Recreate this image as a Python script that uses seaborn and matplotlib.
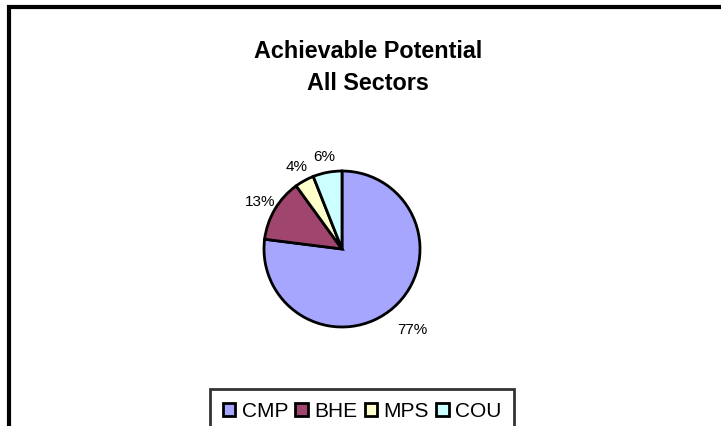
import matplotlib
matplotlib.use("Agg")
import matplotlib.pyplot as plt
import seaborn as sns
import numpy as np
from matplotlib.patches import Rectangle

# Share of achievable potential by sector (percent)
sectors = ["CMP", "BHE", "MPS", "COU"]
shares = [77, 13, 4, 6]
slice_colors = ["#A6A6FF", "#A0466E", "#FFFFCC", "#CCFFFF"]
title_lines = ["Achievable Potential", "All Sectors"]

sns.set_theme(style="white")
plt.rcParams["font.family"] = ["Liberation Sans", "DejaVu Sans"]
plt.rcParams["text.color"] = "black"

W, H, DPI = 721, 427, 100
fig = plt.figure(figsize=(W / DPI, H / DPI), dpi=DPI)
fig.patch.set_facecolor("white")

# Chart frame (extends past the right and bottom edges)
fig.patches.append(Rectangle((9 / W, -0.2), 1.2, 1 - 8 / H + 0.2,
                             transform=fig.transFigure, fill=False,
                             edgecolor="black", linewidth=3.0))

# Title, two centred lines
fig.text(368 / W, 1 - 58 / H, title_lines[0], ha="center", va="baseline",
         fontsize=16.8, fontweight="bold", color="black")
fig.text(368 / W, 1 - 90 / H, title_lines[1], ha="center", va="baseline",
         fontsize=16.8, fontweight="bold", color="black")

# Pie axes: centre at (342, 250) px, radius 78 px
cx, cy, r = 342, 250, 78
ax = fig.add_axes([(cx - r) / W, 1 - (cy + r) / H, 2 * r / W, 2 * r / H])
palette = sns.color_palette(slice_colors)
wedges, texts, autotexts = ax.pie(
    shares, colors=palette, startangle=90, counterclock=False,
    autopct="%1.0f%%", pctdistance=1.22,
    wedgeprops=dict(edgecolor="black", linewidth=2.0),
    textprops=dict(fontsize=11, color="black"))
ax.set_xlim(-1, 1)
ax.set_ylim(-1, 1)
ax.set_aspect("equal")
ax.axis("off")

# Push the large slice's label a little further out
x0, y0 = autotexts[0].get_position()
autotexts[0].set_position((x0 * 1.37 / 1.22, y0 * 1.37 / 1.22))

leg = fig.legend(wedges, sectors, loc="upper center",
                 bbox_to_anchor=(362 / W, 1 - 390 / H), ncol=4,
                 fontsize=15, frameon=True, fancybox=False,
                 edgecolor="black", handlelength=0.6, handleheight=0.6,
                 handletextpad=0.3, columnspacing=0.35, borderpad=0.6,
                 borderaxespad=0, labelcolor="black")
leg.get_frame().set_linewidth(2.0)
leg.get_frame().set_facecolor("white")

fig.savefig("out.png", dpi=DPI)
